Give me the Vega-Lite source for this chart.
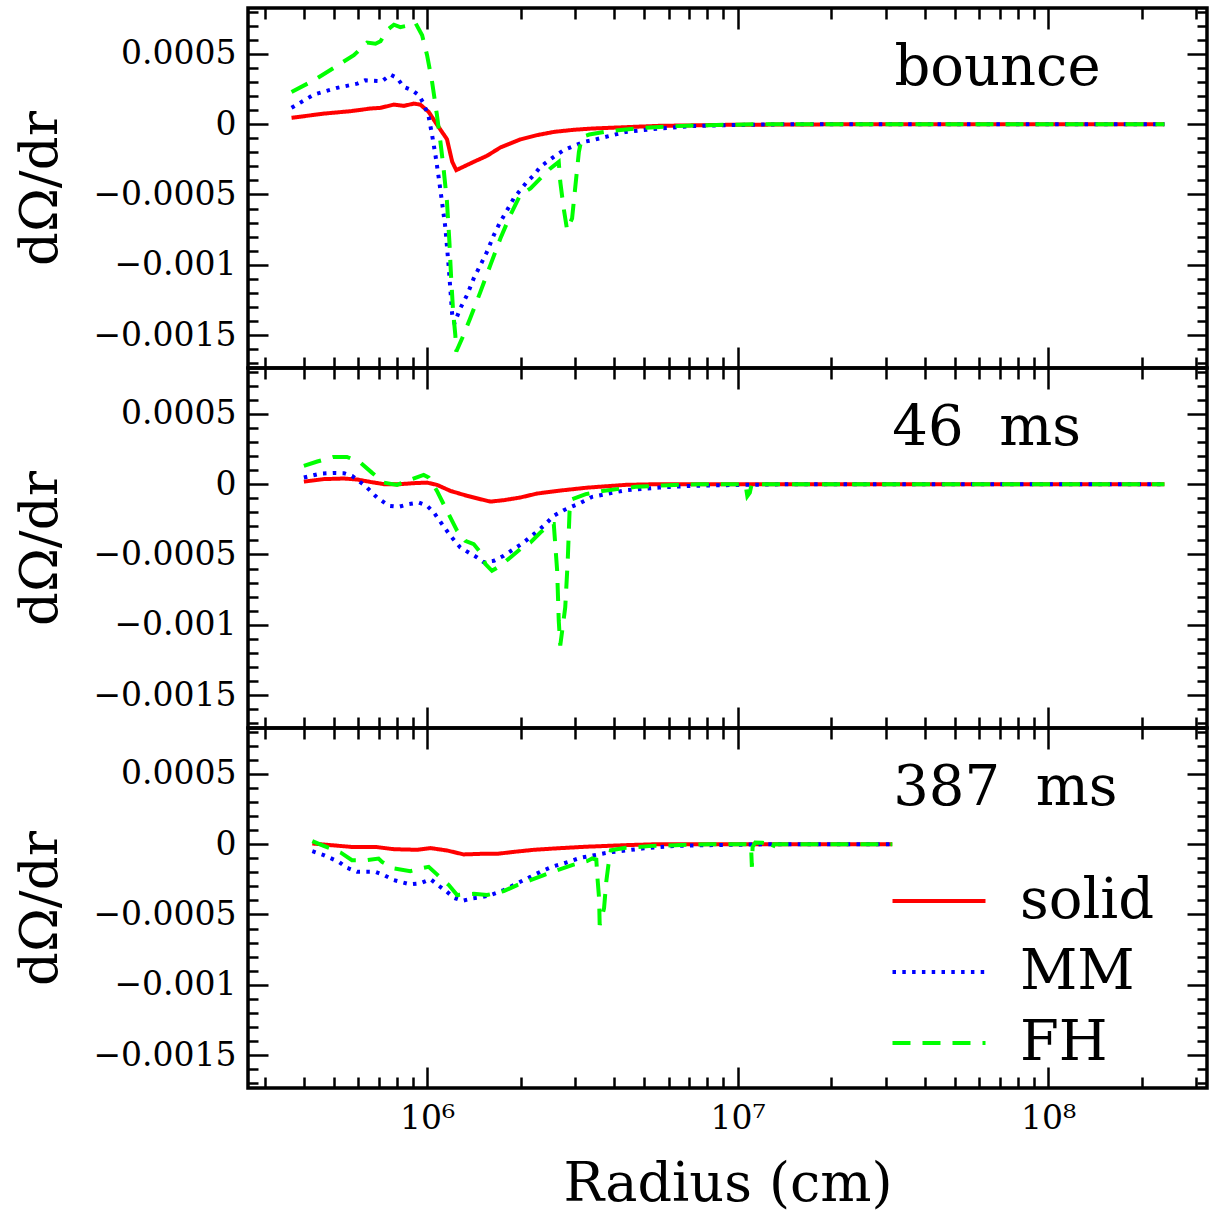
{
  "$schema": "https://vega.github.io/schema/vega-lite/v6.json",
  "padding": {"left": 13, "top": 5, "right": 5, "bottom": 0},
  "spacing": 0,
  "bounds": "flush",
  "config": {
    "view": {"stroke": "black", "strokeWidth": 3.5},
    "axis": {"grid": false, "domain": false, "minExtent": 0, "tickColor": "black", "tickWidth": 2.5, "labelFont": "DejaVu Serif", "titleFont": "DejaVu Serif", "labelFontSize": 33, "titleFontSize": 53, "titleFontWeight": "normal", "labelColor": "black", "titleColor": "black", "labelOverlap": false, "labelBound": false, "labelFlush": false}
  },
  "resolve": {"legend": {"color": "independent", "strokeDash": "independent"}},
  "datasets": {
    "labels": [
      {"p": "bounce", "t": "bounce", "r": 32000000, "v": 0.00028},
      {"p": "46", "t": "46\u00a0\u00a0ms", "r": 31500000, "v": 0.00028},
      {"p": "387", "t": "387\u00a0\u00a0ms", "r": 31700000, "v": 0.00028}
    ],
    "curves": [
      {"p":"bounce","m":"solid","r":366000,"v":0.000045},
      {"p":"bounce","m":"solid","r":465000,"v":0.000075},
      {"p":"bounce","m":"solid","r":566000,"v":0.000092},
      {"p":"bounce","m":"solid","r":656000,"v":0.000111},
      {"p":"bounce","m":"solid","r":708000,"v":0.000116},
      {"p":"bounce","m":"solid","r":782000,"v":0.000139},
      {"p":"bounce","m":"solid","r":841000,"v":0.00013},
      {"p":"bounce","m":"solid","r":906000,"v":0.000146},
      {"p":"bounce","m":"solid","r":951000,"v":0.000139},
      {"p":"bounce","m":"solid","r":1012000,"v":0.000087},
      {"p":"bounce","m":"solid","r":1076000,"v":-0.000003},
      {"p":"bounce","m":"solid","r":1159000,"v":-0.000107},
      {"p":"bounce","m":"solid","r":1205000,"v":-0.000268},
      {"p":"bounce","m":"solid","r":1242000,"v":-0.000327},
      {"p":"bounce","m":"solid","r":1413000,"v":-0.000268},
      {"p":"bounce","m":"solid","r":1560000,"v":-0.000225},
      {"p":"bounce","m":"solid","r":1722000,"v":-0.000166},
      {"p":"bounce","m":"solid","r":1995000,"v":-0.000109},
      {"p":"bounce","m":"solid","r":2260000,"v":-0.000078},
      {"p":"bounce","m":"solid","r":2560000,"v":-0.000055},
      {"p":"bounce","m":"solid","r":2970000,"v":-0.00004},
      {"p":"bounce","m":"solid","r":3400000,"v":-0.000031},
      {"p":"bounce","m":"solid","r":5580000,"v":-0.000012},
      {"p":"bounce","m":"solid","r":9180000,"v":-0.000005},
      {"p":"bounce","m":"solid","r":16000000,"v":-0.000002},
      {"p":"bounce","m":"solid","r":30000000,"v":0},
      {"p":"bounce","m":"solid","r":100000000,"v":0},
      {"p":"bounce","m":"solid","r":237000000,"v":0},

      {"p":"bounce","m":"MM","r":366000,"v":0.000116},
      {"p":"bounce","m":"MM","r":432000,"v":0.00021},
      {"p":"bounce","m":"MM","r":513000,"v":0.000258},
      {"p":"bounce","m":"MM","r":596000,"v":0.000288},
      {"p":"bounce","m":"MM","r":632000,"v":0.000312},
      {"p":"bounce","m":"MM","r":716000,"v":0.000305},
      {"p":"bounce","m":"MM","r":762000,"v":0.000352},
      {"p":"bounce","m":"MM","r":800000,"v":0.000329},
      {"p":"bounce","m":"MM","r":841000,"v":0.000265},
      {"p":"bounce","m":"MM","r":895000,"v":0.000241},
      {"p":"bounce","m":"MM","r":940000,"v":0.000206},
      {"p":"bounce","m":"MM","r":975000,"v":0.000146},
      {"p":"bounce","m":"MM","r":1012000,"v":0.000052},
      {"p":"bounce","m":"MM","r":1038000,"v":-0.000078},
      {"p":"bounce","m":"MM","r":1064000,"v":-0.00022},
      {"p":"bounce","m":"MM","r":1091000,"v":-0.000386},
      {"p":"bounce","m":"MM","r":1117000,"v":-0.000552},
      {"p":"bounce","m":"MM","r":1146000,"v":-0.000741},
      {"p":"bounce","m":"MM","r":1175000,"v":-0.001026},
      {"p":"bounce","m":"MM","r":1205000,"v":-0.001357},
      {"p":"bounce","m":"MM","r":1225000,"v":-0.001416},
      {"p":"bounce","m":"MM","r":1279000,"v":-0.00131},
      {"p":"bounce","m":"MM","r":1346000,"v":-0.001214},
      {"p":"bounce","m":"MM","r":1413000,"v":-0.001097},
      {"p":"bounce","m":"MM","r":1486000,"v":-0.001001},
      {"p":"bounce","m":"MM","r":1560000,"v":-0.000907},
      {"p":"bounce","m":"MM","r":1641000,"v":-0.000788},
      {"p":"bounce","m":"MM","r":1722000,"v":-0.000694},
      {"p":"bounce","m":"MM","r":1811000,"v":-0.000611},
      {"p":"bounce","m":"MM","r":1901000,"v":-0.000528},
      {"p":"bounce","m":"MM","r":1995000,"v":-0.000469},
      {"p":"bounce","m":"MM","r":2099000,"v":-0.00041},
      {"p":"bounce","m":"MM","r":2208000,"v":-0.000362},
      {"p":"bounce","m":"MM","r":2317000,"v":-0.000303},
      {"p":"bounce","m":"MM","r":2559000,"v":-0.000232},
      {"p":"bounce","m":"MM","r":2754000,"v":-0.000185},
      {"p":"bounce","m":"MM","r":3199000,"v":-0.000126},
      {"p":"bounce","m":"MM","r":3404000,"v":-0.000114},
      {"p":"bounce","m":"MM","r":4365000,"v":-0.000055},
      {"p":"bounce","m":"MM","r":5585000,"v":-0.000031},
      {"p":"bounce","m":"MM","r":7145000,"v":-0.000014},
      {"p":"bounce","m":"MM","r":9160000,"v":-0.000007},
      {"p":"bounce","m":"MM","r":15000000,"v":0},
      {"p":"bounce","m":"MM","r":100000000,"v":0},
      {"p":"bounce","m":"MM","r":237000000,"v":0},

      {"p":"bounce","m":"FH","r":366000,"v":0.000229},
      {"p":"bounce","m":"FH","r":432000,"v":0.000312},
      {"p":"bounce","m":"FH","r":581000,"v":0.00049},
      {"p":"bounce","m":"FH","r":641000,"v":0.00058},
      {"p":"bounce","m":"FH","r":682000,"v":0.000572},
      {"p":"bounce","m":"FH","r":708000,"v":0.00059},
      {"p":"bounce","m":"FH","r":743000,"v":0.000668},
      {"p":"bounce","m":"FH","r":782000,"v":0.000707},
      {"p":"bounce","m":"FH","r":820000,"v":0.00069},
      {"p":"bounce","m":"FH","r":863000,"v":0.0007},
      {"p":"bounce","m":"FH","r":916000,"v":0.000722},
      {"p":"bounce","m":"FH","r":964000,"v":0.000632},
      {"p":"bounce","m":"FH","r":1000000,"v":0.00049},
      {"p":"bounce","m":"FH","r":1038000,"v":0.0003},
      {"p":"bounce","m":"FH","r":1076000,"v":0.000064},
      {"p":"bounce","m":"FH","r":1104000,"v":-0.000126},
      {"p":"bounce","m":"FH","r":1130000,"v":-0.000315},
      {"p":"bounce","m":"FH","r":1159000,"v":-0.000552},
      {"p":"bounce","m":"FH","r":1180000,"v":-0.000836},
      {"p":"bounce","m":"FH","r":1194000,"v":-0.001072},
      {"p":"bounce","m":"FH","r":1213000,"v":-0.001333},
      {"p":"bounce","m":"FH","r":1233000,"v":-0.001499},
      {"p":"bounce","m":"FH","r":1242000,"v":-0.001617},
      {"p":"bounce","m":"FH","r":1297000,"v":-0.001523},
      {"p":"bounce","m":"FH","r":1377000,"v":-0.001381},
      {"p":"bounce","m":"FH","r":1486000,"v":-0.001191},
      {"p":"bounce","m":"FH","r":1600000,"v":-0.001001},
      {"p":"bounce","m":"FH","r":1722000,"v":-0.000813},
      {"p":"bounce","m":"FH","r":1854000,"v":-0.000647},
      {"p":"bounce","m":"FH","r":1995000,"v":-0.000504},
      {"p":"bounce","m":"FH","r":2153000,"v":-0.000457},
      {"p":"bounce","m":"FH","r":2317000,"v":-0.000386},
      {"p":"bounce","m":"FH","r":2495000,"v":-0.000315},
      {"p":"bounce","m":"FH","r":2655000,"v":-0.000268},
      {"p":"bounce","m":"FH","r":2685000,"v":-0.00041},
      {"p":"bounce","m":"FH","r":2754000,"v":-0.000599},
      {"p":"bounce","m":"FH","r":2825000,"v":-0.000753},
      {"p":"bounce","m":"FH","r":2931000,"v":-0.00067},
      {"p":"bounce","m":"FH","r":3006000,"v":-0.000433},
      {"p":"bounce","m":"FH","r":3083000,"v":-0.000197},
      {"p":"bounce","m":"FH","r":3155000,"v":-0.00009},
      {"p":"bounce","m":"FH","r":3330000,"v":-0.000074},
      {"p":"bounce","m":"FH","r":3855000,"v":-0.00005},
      {"p":"bounce","m":"FH","r":4930000,"v":-0.000027},
      {"p":"bounce","m":"FH","r":6320000,"v":-0.000014},
      {"p":"bounce","m":"FH","r":8090000,"v":-0.000007},
      {"p":"bounce","m":"FH","r":12000000,"v":0},
      {"p":"bounce","m":"FH","r":100000000,"v":0},
      {"p":"bounce","m":"FH","r":237000000,"v":0},

      {"p":"46","m":"solid","r":401000,"v":0.000018},
      {"p":"46","m":"solid","r":465000,"v":0.000036},
      {"p":"46","m":"solid","r":540000,"v":0.00004},
      {"p":"46","m":"solid","r":596000,"v":0.000033},
      {"p":"46","m":"solid","r":656000,"v":0.000016},
      {"p":"46","m":"solid","r":726000,"v":0},
      {"p":"46","m":"solid","r":820000,"v":0},
      {"p":"46","m":"solid","r":906000,"v":0.000007},
      {"p":"46","m":"solid","r":1000000,"v":0.000011},
      {"p":"46","m":"solid","r":1076000,"v":-0.000005},
      {"p":"46","m":"solid","r":1189000,"v":-0.000048},
      {"p":"46","m":"solid","r":1346000,"v":-0.000083},
      {"p":"46","m":"solid","r":1486000,"v":-0.000107},
      {"p":"46","m":"solid","r":1600000,"v":-0.000124},
      {"p":"46","m":"solid","r":1766000,"v":-0.000114},
      {"p":"46","m":"solid","r":1995000,"v":-0.000095},
      {"p":"46","m":"solid","r":2259000,"v":-0.000067},
      {"p":"46","m":"solid","r":2624000,"v":-0.000048},
      {"p":"46","m":"solid","r":3273000,"v":-0.000025},
      {"p":"46","m":"solid","r":4365000,"v":-0.000005},
      {"p":"46","m":"solid","r":5585000,"v":0},
      {"p":"46","m":"solid","r":100000000,"v":0},
      {"p":"46","m":"solid","r":237000000,"v":0},

      {"p":"46","m":"MM","r":401000,"v":0.000047},
      {"p":"46","m":"MM","r":453000,"v":0.000075},
      {"p":"46","m":"MM","r":500000,"v":0.00008},
      {"p":"46","m":"MM","r":540000,"v":0.000078},
      {"p":"46","m":"MM","r":573000,"v":0.000059},
      {"p":"46","m":"MM","r":632000,"v":-0.000012},
      {"p":"46","m":"MM","r":690000,"v":-0.000095},
      {"p":"46","m":"MM","r":753000,"v":-0.000154},
      {"p":"46","m":"MM","r":811000,"v":-0.000161},
      {"p":"46","m":"MM","r":873000,"v":-0.000142},
      {"p":"46","m":"MM","r":940000,"v":-0.000131},
      {"p":"46","m":"MM","r":1000000,"v":-0.000154},
      {"p":"46","m":"MM","r":1052000,"v":-0.000202},
      {"p":"46","m":"MM","r":1117000,"v":-0.000284},
      {"p":"46","m":"MM","r":1189000,"v":-0.000367},
      {"p":"46","m":"MM","r":1279000,"v":-0.00045},
      {"p":"46","m":"MM","r":1361000,"v":-0.000486},
      {"p":"46","m":"MM","r":1449000,"v":-0.000521},
      {"p":"46","m":"MM","r":1524000,"v":-0.000556},
      {"p":"46","m":"MM","r":1641000,"v":-0.000545},
      {"p":"46","m":"MM","r":1766000,"v":-0.000509},
      {"p":"46","m":"MM","r":1901000,"v":-0.000462},
      {"p":"46","m":"MM","r":2046000,"v":-0.000415},
      {"p":"46","m":"MM","r":2208000,"v":-0.000355},
      {"p":"46","m":"MM","r":2377000,"v":-0.000296},
      {"p":"46","m":"MM","r":2559000,"v":-0.000225},
      {"p":"46","m":"MM","r":2754000,"v":-0.000185},
      {"p":"46","m":"MM","r":2965000,"v":-0.000154},
      {"p":"46","m":"MM","r":3090000,"v":-0.000138},
      {"p":"46","m":"MM","r":3404000,"v":-0.00009},
      {"p":"46","m":"MM","r":4365000,"v":-0.000043},
      {"p":"46","m":"MM","r":5585000,"v":-0.000024},
      {"p":"46","m":"MM","r":7145000,"v":-0.000012},
      {"p":"46","m":"MM","r":9160000,"v":-0.000007},
      {"p":"46","m":"MM","r":15000000,"v":0},
      {"p":"46","m":"MM","r":100000000,"v":0},
      {"p":"46","m":"MM","r":237000000,"v":0},

      {"p":"46","m":"FH","r":401000,"v":0.00013},
      {"p":"46","m":"FH","r":443000,"v":0.000161},
      {"p":"46","m":"FH","r":500000,"v":0.000194},
      {"p":"46","m":"FH","r":552000,"v":0.000194},
      {"p":"46","m":"FH","r":610000,"v":0.000153},
      {"p":"46","m":"FH","r":664000,"v":0.000082},
      {"p":"46","m":"FH","r":726000,"v":0.000011},
      {"p":"46","m":"FH","r":800000,"v":-0.000005},
      {"p":"46","m":"FH","r":893000,"v":0.000036},
      {"p":"46","m":"FH","r":975000,"v":0.000066},
      {"p":"46","m":"FH","r":1012000,"v":0.000047},
      {"p":"46","m":"FH","r":1076000,"v":-0.000048},
      {"p":"46","m":"FH","r":1159000,"v":-0.00019},
      {"p":"46","m":"FH","r":1250000,"v":-0.000332},
      {"p":"46","m":"FH","r":1327000,"v":-0.000403},
      {"p":"46","m":"FH","r":1413000,"v":-0.000426},
      {"p":"46","m":"FH","r":1486000,"v":-0.000486},
      {"p":"46","m":"FH","r":1542000,"v":-0.000568},
      {"p":"46","m":"FH","r":1618000,"v":-0.000616},
      {"p":"46","m":"FH","r":1722000,"v":-0.00058},
      {"p":"46","m":"FH","r":1854000,"v":-0.000521},
      {"p":"46","m":"FH","r":1995000,"v":-0.000462},
      {"p":"46","m":"FH","r":2153000,"v":-0.000415},
      {"p":"46","m":"FH","r":2317000,"v":-0.000344},
      {"p":"46","m":"FH","r":2495000,"v":-0.000284},
      {"p":"46","m":"FH","r":2559000,"v":-0.000284},
      {"p":"46","m":"FH","r":2624000,"v":-0.000616},
      {"p":"46","m":"FH","r":2655000,"v":-0.000971},
      {"p":"46","m":"FH","r":2685000,"v":-0.001148},
      {"p":"46","m":"FH","r":2786000,"v":-0.000876},
      {"p":"46","m":"FH","r":2838000,"v":-0.000545},
      {"p":"46","m":"FH","r":2877000,"v":-0.00019},
      {"p":"46","m":"FH","r":2931000,"v":-0.000107},
      {"p":"46","m":"FH","r":3243000,"v":-0.000071},
      {"p":"46","m":"FH","r":3673000,"v":-0.000048},
      {"p":"46","m":"FH","r":4699000,"v":-0.000019},
      {"p":"46","m":"FH","r":6012000,"v":-0.000007},
      {"p":"46","m":"FH","r":7516000,"v":0},
      {"p":"46","m":"FH","r":10600000,"v":0},
      {"p":"46","m":"FH","r":10750000,"v":-0.000085},
      {"p":"46","m":"FH","r":10950000,"v":-0.00006},
      {"p":"46","m":"FH","r":11100000,"v":0},
      {"p":"46","m":"FH","r":100000000,"v":0},
      {"p":"46","m":"FH","r":237000000,"v":0},

      {"p":"387","m":"solid","r":427000,"v":0.000005},
      {"p":"387","m":"solid","r":489000,"v":-0.000007},
      {"p":"387","m":"solid","r":581000,"v":-0.000021},
      {"p":"387","m":"solid","r":690000,"v":-0.000021},
      {"p":"387","m":"solid","r":782000,"v":-0.000036},
      {"p":"387","m":"solid","r":929000,"v":-0.00004},
      {"p":"387","m":"solid","r":1026000,"v":-0.000028},
      {"p":"387","m":"solid","r":1159000,"v":-0.000045},
      {"p":"387","m":"solid","r":1312000,"v":-0.000073},
      {"p":"387","m":"solid","r":1486000,"v":-0.000069},
      {"p":"387","m":"solid","r":1679000,"v":-0.000069},
      {"p":"387","m":"solid","r":1901000,"v":-0.000055},
      {"p":"387","m":"solid","r":2208000,"v":-0.00004},
      {"p":"387","m":"solid","r":2559000,"v":-0.000031},
      {"p":"387","m":"solid","r":3199000,"v":-0.000019},
      {"p":"387","m":"solid","r":4365000,"v":-0.000007},
      {"p":"387","m":"solid","r":5585000,"v":0},
      {"p":"387","m":"solid","r":31500000,"v":0},

      {"p":"387","m":"MM","r":427000,"v":-0.00005},
      {"p":"387","m":"MM","r":464500,"v":-0.000078},
      {"p":"387","m":"MM","r":520000,"v":-0.000126},
      {"p":"387","m":"MM","r":552000,"v":-0.000168},
      {"p":"387","m":"MM","r":596000,"v":-0.000197},
      {"p":"387","m":"MM","r":682000,"v":-0.000197},
      {"p":"387","m":"MM","r":726000,"v":-0.00022},
      {"p":"387","m":"MM","r":782000,"v":-0.000256},
      {"p":"387","m":"MM","r":883000,"v":-0.000286},
      {"p":"387","m":"MM","r":951000,"v":-0.000279},
      {"p":"387","m":"MM","r":1026000,"v":-0.000249},
      {"p":"387","m":"MM","r":1091000,"v":-0.000296},
      {"p":"387","m":"MM","r":1159000,"v":-0.000339},
      {"p":"387","m":"MM","r":1219000,"v":-0.000381},
      {"p":"387","m":"MM","r":1297000,"v":-0.000403},
      {"p":"387","m":"MM","r":1396000,"v":-0.000386},
      {"p":"387","m":"MM","r":1486000,"v":-0.000379},
      {"p":"387","m":"MM","r":1600000,"v":-0.000362},
      {"p":"387","m":"MM","r":1766000,"v":-0.000327},
      {"p":"387","m":"MM","r":1950000,"v":-0.000279},
      {"p":"387","m":"MM","r":2153000,"v":-0.000232},
      {"p":"387","m":"MM","r":2317000,"v":-0.000197},
      {"p":"387","m":"MM","r":2523000,"v":-0.000161},
      {"p":"387","m":"MM","r":2754000,"v":-0.000137},
      {"p":"387","m":"MM","r":3119000,"v":-0.000097},
      {"p":"387","m":"MM","r":3855000,"v":-0.000059},
      {"p":"387","m":"MM","r":4932000,"v":-0.000031},
      {"p":"387","m":"MM","r":6324000,"v":-0.000012},
      {"p":"387","m":"MM","r":8091000,"v":-0.000007},
      {"p":"387","m":"MM","r":13000000,"v":0},
      {"p":"387","m":"MM","r":31500000,"v":0},

      {"p":"387","m":"FH","r":427000,"v":0.000021},
      {"p":"387","m":"FH","r":464500,"v":-0.000012},
      {"p":"387","m":"FH","r":526000,"v":-0.000059},
      {"p":"387","m":"FH","r":573000,"v":-0.000114},
      {"p":"387","m":"FH","r":641000,"v":-0.000114},
      {"p":"387","m":"FH","r":698000,"v":-0.000102},
      {"p":"387","m":"FH","r":716000,"v":-0.000126},
      {"p":"387","m":"FH","r":782000,"v":-0.000173},
      {"p":"387","m":"FH","r":883000,"v":-0.000192},
      {"p":"387","m":"FH","r":975000,"v":-0.000168},
      {"p":"387","m":"FH","r":1012000,"v":-0.000161},
      {"p":"387","m":"FH","r":1076000,"v":-0.000215},
      {"p":"387","m":"FH","r":1175000,"v":-0.000291},
      {"p":"387","m":"FH","r":1250000,"v":-0.000362},
      {"p":"387","m":"FH","r":1413000,"v":-0.000353},
      {"p":"387","m":"FH","r":1560000,"v":-0.000362},
      {"p":"387","m":"FH","r":1766000,"v":-0.000334},
      {"p":"387","m":"FH","r":1950000,"v":-0.000291},
      {"p":"387","m":"FH","r":2153000,"v":-0.000256},
      {"p":"387","m":"FH","r":2377000,"v":-0.00022},
      {"p":"387","m":"FH","r":2624000,"v":-0.000185},
      {"p":"387","m":"FH","r":2931000,"v":-0.000149},
      {"p":"387","m":"FH","r":3273000,"v":-0.000121},
      {"p":"387","m":"FH","r":3404000,"v":-0.000102},
      {"p":"387","m":"FH","r":3508000,"v":-0.00011},
      {"p":"387","m":"FH","r":3532000,"v":-0.00022},
      {"p":"387","m":"FH","r":3581000,"v":-0.000386},
      {"p":"387","m":"FH","r":3597000,"v":-0.000575},
      {"p":"387","m":"FH","r":3715000,"v":-0.000457},
      {"p":"387","m":"FH","r":3776000,"v":-0.000268},
      {"p":"387","m":"FH","r":3837000,"v":-0.000149},
      {"p":"387","m":"FH","r":3908000,"v":-0.000043},
      {"p":"387","m":"FH","r":4365000,"v":-0.000026},
      {"p":"387","m":"FH","r":5188000,"v":-0.000014},
      {"p":"387","m":"FH","r":6324000,"v":-0.000007},
      {"p":"387","m":"FH","r":8091000,"v":0},
      {"p":"387","m":"FH","r":10900000,"v":0},
      {"p":"387","m":"FH","r":11050000,"v":-0.00001},
      {"p":"387","m":"FH","r":11120000,"v":-0.000161},
      {"p":"387","m":"FH","r":11180000,"v":-0.00002},
      {"p":"387","m":"FH","r":11400000,"v":0.000012},
      {"p":"387","m":"FH","r":12000000,"v":0.00001},
      {"p":"387","m":"FH","r":12700000,"v":0},
      {"p":"387","m":"FH","r":12950000,"v":-0.00003},
      {"p":"387","m":"FH","r":13100000,"v":0},
      {"p":"387","m":"FH","r":31500000,"v":0}
    ]
  },
  "vconcat": [
    {
      "width": 959, "height": 360,
      "resolve": {"axis": {"x": "independent", "y": "independent"}},
      "layer": [
        {
          "data": {"name": "curves"},
          "transform": [{"filter": "datum.p == 'bounce'"}],
          "mark": {"type": "line", "strokeWidth": 4},
          "encoding": {
            "x": {"field": "r", "type": "quantitative", "scale": {"type": "log", "domain": [265000, 325000000], "nice": false}, "axis": null},
            "y": {"field": "v", "type": "quantitative", "scale": {"domain": [-0.001734, 0.000826], "nice": false, "zero": false}, "axis": {"orient": "left", "values": [-0.0015, -0.001, -0.0005, 0, 0.0005], "format": "~g", "ticks": false, "tickSize": 0, "labelPadding": 12, "title": "dΩ/dr", "titlePadding": 25}},
            "color": {"field": "m", "type": "nominal", "scale": {"domain": ["solid", "MM", "FH"], "range": ["#ff0000", "#0000ff", "#00ff00"]}, "legend": null},
            "strokeDash": {"field": "m", "type": "nominal", "scale": {"domain": ["solid", "MM", "FH"], "range": [[1, 0], [3.5, 6.3], [18, 12]]}, "legend": null}
          }
        },
        {
          "data": {"name": "labels"},
          "transform": [{"filter": "datum.p == 'bounce'"}],
          "mark": {"type": "point", "opacity": 0},
          "encoding": {
            "x": {"field": "r", "type": "quantitative", "scale": {"type": "log", "domain": [265000, 325000000], "nice": false}, "axis": {"orient": "bottom", "values": [1000000, 10000000, 100000000], "labels": false, "tickSize": -21, "title": null}},
            "y": {"field": "v", "type": "quantitative", "scale": {"domain": [-0.001734, 0.000826], "nice": false, "zero": false}, "axis": {"orient": "left", "values": [-0.0015, -0.001, -0.0005, 0, 0.0005], "labels": false, "tickSize": -20, "title": null}}
          }
        },
        {
          "data": {"name": "labels"},
          "transform": [{"filter": "datum.p == 'bounce'"}],
          "mark": {"type": "point", "opacity": 0},
          "encoding": {
            "x": {"field": "r", "type": "quantitative", "scale": {"type": "log", "domain": [265000, 325000000], "nice": false}, "axis": {"orient": "bottom", "values": [300000, 400000, 500000, 600000, 700000, 800000, 900000, 2000000, 3000000, 4000000, 5000000, 6000000, 7000000, 8000000, 9000000, 20000000, 30000000, 40000000, 50000000, 60000000, 70000000, 80000000, 90000000, 200000000, 300000000], "labels": false, "tickSize": -11, "title": null}},
            "y": {"field": "v", "type": "quantitative", "scale": {"domain": [-0.001734, 0.000826], "nice": false, "zero": false}, "axis": {"orient": "left", "values": [-0.0017, -0.0016, -0.0014, -0.0013, -0.0012, -0.0011, -0.0009, -0.0008, -0.0007, -0.0006, -0.0004, -0.0003, -0.0002, -0.0001, 0.0001, 0.0002, 0.0003, 0.0004, 0.0006, 0.0007, 0.0008], "labels": false, "tickSize": -10, "title": null}}
          }
        },
        {
          "data": {"name": "labels"},
          "transform": [{"filter": "datum.p == 'bounce'"}],
          "mark": {"type": "point", "opacity": 0},
          "encoding": {
            "x": {"field": "r", "type": "quantitative", "scale": {"type": "log", "domain": [265000, 325000000], "nice": false}, "axis": {"orient": "top", "values": [1000000, 10000000, 100000000], "labels": false, "tickSize": -21, "title": null}},
            "y": {"field": "v", "type": "quantitative", "scale": {"domain": [-0.001734, 0.000826], "nice": false, "zero": false}, "axis": {"orient": "right", "values": [-0.0015, -0.001, -0.0005, 0, 0.0005], "labels": false, "tickSize": -20, "title": null}}
          }
        },
        {
          "data": {"name": "labels"},
          "transform": [{"filter": "datum.p == 'bounce'"}],
          "mark": {"type": "point", "opacity": 0},
          "encoding": {
            "x": {"field": "r", "type": "quantitative", "scale": {"type": "log", "domain": [265000, 325000000], "nice": false}, "axis": {"orient": "top", "values": [300000, 400000, 500000, 600000, 700000, 800000, 900000, 2000000, 3000000, 4000000, 5000000, 6000000, 7000000, 8000000, 9000000, 20000000, 30000000, 40000000, 50000000, 60000000, 70000000, 80000000, 90000000, 200000000, 300000000], "labels": false, "tickSize": -11, "title": null}},
            "y": {"field": "v", "type": "quantitative", "scale": {"domain": [-0.001734, 0.000826], "nice": false, "zero": false}, "axis": {"orient": "right", "values": [-0.0017, -0.0016, -0.0014, -0.0013, -0.0012, -0.0011, -0.0009, -0.0008, -0.0007, -0.0006, -0.0004, -0.0003, -0.0002, -0.0001, 0.0001, 0.0002, 0.0003, 0.0004, 0.0006, 0.0007, 0.0008], "labels": false, "tickSize": -10, "title": null}}
          }
        },
        {
          "data": {"name": "labels"},
          "transform": [{"filter": "datum.p == 'bounce'"}],
          "mark": {"type": "text", "align": "left", "baseline": "alphabetic", "font": "DejaVu Serif", "fontSize": 56, "color": "black"},
          "encoding": {
            "x": {"field": "r", "type": "quantitative", "axis": null},
            "y": {"field": "v", "type": "quantitative", "axis": null},
            "text": {"field": "t"}
          }
        }
      ]
    },
    {
      "width": 959, "height": 360,
      "resolve": {"axis": {"x": "independent", "y": "independent"}},
      "layer": [
        {
          "data": {"name": "curves"},
          "transform": [{"filter": "datum.p == '46'"}],
          "mark": {"type": "line", "strokeWidth": 4},
          "encoding": {
            "x": {"field": "r", "type": "quantitative", "scale": {"type": "log", "domain": [265000, 325000000], "nice": false}, "axis": null},
            "y": {"field": "v", "type": "quantitative", "scale": {"domain": [-0.001734, 0.000826], "nice": false, "zero": false}, "axis": {"orient": "left", "values": [-0.0015, -0.001, -0.0005, 0, 0.0005], "format": "~g", "ticks": false, "tickSize": 0, "labelPadding": 12, "title": "dΩ/dr", "titlePadding": 25}},
            "color": {"field": "m", "type": "nominal", "scale": {"domain": ["solid", "MM", "FH"], "range": ["#ff0000", "#0000ff", "#00ff00"]}, "legend": null},
            "strokeDash": {"field": "m", "type": "nominal", "scale": {"domain": ["solid", "MM", "FH"], "range": [[1, 0], [3.5, 6.3], [18, 12]]}, "legend": null}
          }
        },
        {
          "data": {"name": "labels"},
          "transform": [{"filter": "datum.p == '46'"}],
          "mark": {"type": "point", "opacity": 0},
          "encoding": {
            "x": {"field": "r", "type": "quantitative", "scale": {"type": "log", "domain": [265000, 325000000], "nice": false}, "axis": {"orient": "bottom", "values": [1000000, 10000000, 100000000], "labels": false, "tickSize": -21, "title": null}},
            "y": {"field": "v", "type": "quantitative", "scale": {"domain": [-0.001734, 0.000826], "nice": false, "zero": false}, "axis": {"orient": "left", "values": [-0.0015, -0.001, -0.0005, 0, 0.0005], "labels": false, "tickSize": -20, "title": null}}
          }
        },
        {
          "data": {"name": "labels"},
          "transform": [{"filter": "datum.p == '46'"}],
          "mark": {"type": "point", "opacity": 0},
          "encoding": {
            "x": {"field": "r", "type": "quantitative", "scale": {"type": "log", "domain": [265000, 325000000], "nice": false}, "axis": {"orient": "bottom", "values": [300000, 400000, 500000, 600000, 700000, 800000, 900000, 2000000, 3000000, 4000000, 5000000, 6000000, 7000000, 8000000, 9000000, 20000000, 30000000, 40000000, 50000000, 60000000, 70000000, 80000000, 90000000, 200000000, 300000000], "labels": false, "tickSize": -11, "title": null}},
            "y": {"field": "v", "type": "quantitative", "scale": {"domain": [-0.001734, 0.000826], "nice": false, "zero": false}, "axis": {"orient": "left", "values": [-0.0017, -0.0016, -0.0014, -0.0013, -0.0012, -0.0011, -0.0009, -0.0008, -0.0007, -0.0006, -0.0004, -0.0003, -0.0002, -0.0001, 0.0001, 0.0002, 0.0003, 0.0004, 0.0006, 0.0007, 0.0008], "labels": false, "tickSize": -10, "title": null}}
          }
        },
        {
          "data": {"name": "labels"},
          "transform": [{"filter": "datum.p == '46'"}],
          "mark": {"type": "point", "opacity": 0},
          "encoding": {
            "x": {"field": "r", "type": "quantitative", "scale": {"type": "log", "domain": [265000, 325000000], "nice": false}, "axis": {"orient": "top", "values": [1000000, 10000000, 100000000], "labels": false, "tickSize": -21, "title": null}},
            "y": {"field": "v", "type": "quantitative", "scale": {"domain": [-0.001734, 0.000826], "nice": false, "zero": false}, "axis": {"orient": "right", "values": [-0.0015, -0.001, -0.0005, 0, 0.0005], "labels": false, "tickSize": -20, "title": null}}
          }
        },
        {
          "data": {"name": "labels"},
          "transform": [{"filter": "datum.p == '46'"}],
          "mark": {"type": "point", "opacity": 0},
          "encoding": {
            "x": {"field": "r", "type": "quantitative", "scale": {"type": "log", "domain": [265000, 325000000], "nice": false}, "axis": {"orient": "top", "values": [300000, 400000, 500000, 600000, 700000, 800000, 900000, 2000000, 3000000, 4000000, 5000000, 6000000, 7000000, 8000000, 9000000, 20000000, 30000000, 40000000, 50000000, 60000000, 70000000, 80000000, 90000000, 200000000, 300000000], "labels": false, "tickSize": -11, "title": null}},
            "y": {"field": "v", "type": "quantitative", "scale": {"domain": [-0.001734, 0.000826], "nice": false, "zero": false}, "axis": {"orient": "right", "values": [-0.0017, -0.0016, -0.0014, -0.0013, -0.0012, -0.0011, -0.0009, -0.0008, -0.0007, -0.0006, -0.0004, -0.0003, -0.0002, -0.0001, 0.0001, 0.0002, 0.0003, 0.0004, 0.0006, 0.0007, 0.0008], "labels": false, "tickSize": -10, "title": null}}
          }
        },
        {
          "data": {"name": "labels"},
          "transform": [{"filter": "datum.p == '46'"}],
          "mark": {"type": "text", "align": "left", "baseline": "alphabetic", "font": "DejaVu Serif", "fontSize": 56, "color": "black"},
          "encoding": {
            "x": {"field": "r", "type": "quantitative", "axis": null},
            "y": {"field": "v", "type": "quantitative", "axis": null},
            "text": {"field": "t"}
          }
        }
      ]
    },
    {
      "width": 959, "height": 360,
      "resolve": {"axis": {"x": "independent", "y": "independent"}},
      "layer": [
        {
          "data": {"name": "curves"},
          "transform": [{"filter": "datum.p == '387'"}],
          "mark": {"type": "line", "strokeWidth": 4},
          "encoding": {
            "x": {"field": "r", "type": "quantitative", "scale": {"type": "log", "domain": [265000, 325000000], "nice": false}, "axis": {"orient": "bottom", "values": [1000000, 10000000, 100000000], "ticks": false, "tickSize": 0, "labelPadding": 14, "labelFontSize": 33, "labelExpr": "'10' + (datum.value < 5000000 ? '⁶' : datum.value < 50000000 ? '⁷' : '⁸')", "title": "Radius (cm)", "titleFontSize": 54, "titlePadding": 22}},
            "y": {"field": "v", "type": "quantitative", "scale": {"domain": [-0.001734, 0.000826], "nice": false, "zero": false}, "axis": {"orient": "left", "values": [-0.0015, -0.001, -0.0005, 0, 0.0005], "format": "~g", "ticks": false, "tickSize": 0, "labelPadding": 12, "title": "dΩ/dr", "titlePadding": 25}},
            "color": {"field": "m", "type": "nominal", "scale": {"domain": ["solid", "MM", "FH"], "range": ["#ff0000", "#0000ff", "#00ff00"]}, "legend": {"orient": "none", "legendX": 663, "legendY": 145, "title": null, "padding": 0, "symbolType": "M-2,0L2,0", "symbolSize": 2162, "symbolStrokeWidth": 4, "labelFont": "DejaVu Serif", "labelFontSize": 56, "labelColor": "black", "labelOffset": 53, "rowPadding": 15}},
            "strokeDash": {"field": "m", "type": "nominal", "scale": {"domain": ["solid", "MM", "FH"], "range": [[1, 0], [3.5, 6.3], [18, 12]]}, "legend": {"orient": "none", "legendX": 663, "legendY": 145, "title": null, "padding": 0, "symbolType": "M-2,0L2,0", "symbolSize": 2162, "symbolStrokeWidth": 4, "labelFont": "DejaVu Serif", "labelFontSize": 56, "labelColor": "black", "labelOffset": 53, "rowPadding": 15}}
          }
        },
        {
          "data": {"name": "labels"},
          "transform": [{"filter": "datum.p == '387'"}],
          "mark": {"type": "point", "opacity": 0},
          "encoding": {
            "x": {"field": "r", "type": "quantitative", "scale": {"type": "log", "domain": [265000, 325000000], "nice": false}, "axis": {"orient": "bottom", "values": [1000000, 10000000, 100000000], "labels": false, "tickSize": -21, "title": null}},
            "y": {"field": "v", "type": "quantitative", "scale": {"domain": [-0.001734, 0.000826], "nice": false, "zero": false}, "axis": {"orient": "left", "values": [-0.0015, -0.001, -0.0005, 0, 0.0005], "labels": false, "tickSize": -20, "title": null}}
          }
        },
        {
          "data": {"name": "labels"},
          "transform": [{"filter": "datum.p == '387'"}],
          "mark": {"type": "point", "opacity": 0},
          "encoding": {
            "x": {"field": "r", "type": "quantitative", "scale": {"type": "log", "domain": [265000, 325000000], "nice": false}, "axis": {"orient": "bottom", "values": [300000, 400000, 500000, 600000, 700000, 800000, 900000, 2000000, 3000000, 4000000, 5000000, 6000000, 7000000, 8000000, 9000000, 20000000, 30000000, 40000000, 50000000, 60000000, 70000000, 80000000, 90000000, 200000000, 300000000], "labels": false, "tickSize": -11, "title": null}},
            "y": {"field": "v", "type": "quantitative", "scale": {"domain": [-0.001734, 0.000826], "nice": false, "zero": false}, "axis": {"orient": "left", "values": [-0.0017, -0.0016, -0.0014, -0.0013, -0.0012, -0.0011, -0.0009, -0.0008, -0.0007, -0.0006, -0.0004, -0.0003, -0.0002, -0.0001, 0.0001, 0.0002, 0.0003, 0.0004, 0.0006, 0.0007, 0.0008], "labels": false, "tickSize": -10, "title": null}}
          }
        },
        {
          "data": {"name": "labels"},
          "transform": [{"filter": "datum.p == '387'"}],
          "mark": {"type": "point", "opacity": 0},
          "encoding": {
            "x": {"field": "r", "type": "quantitative", "scale": {"type": "log", "domain": [265000, 325000000], "nice": false}, "axis": {"orient": "top", "values": [1000000, 10000000, 100000000], "labels": false, "tickSize": -21, "title": null}},
            "y": {"field": "v", "type": "quantitative", "scale": {"domain": [-0.001734, 0.000826], "nice": false, "zero": false}, "axis": {"orient": "right", "values": [-0.0015, -0.001, -0.0005, 0, 0.0005], "labels": false, "tickSize": -20, "title": null}}
          }
        },
        {
          "data": {"name": "labels"},
          "transform": [{"filter": "datum.p == '387'"}],
          "mark": {"type": "point", "opacity": 0},
          "encoding": {
            "x": {"field": "r", "type": "quantitative", "scale": {"type": "log", "domain": [265000, 325000000], "nice": false}, "axis": {"orient": "top", "values": [300000, 400000, 500000, 600000, 700000, 800000, 900000, 2000000, 3000000, 4000000, 5000000, 6000000, 7000000, 8000000, 9000000, 20000000, 30000000, 40000000, 50000000, 60000000, 70000000, 80000000, 90000000, 200000000, 300000000], "labels": false, "tickSize": -11, "title": null}},
            "y": {"field": "v", "type": "quantitative", "scale": {"domain": [-0.001734, 0.000826], "nice": false, "zero": false}, "axis": {"orient": "right", "values": [-0.0017, -0.0016, -0.0014, -0.0013, -0.0012, -0.0011, -0.0009, -0.0008, -0.0007, -0.0006, -0.0004, -0.0003, -0.0002, -0.0001, 0.0001, 0.0002, 0.0003, 0.0004, 0.0006, 0.0007, 0.0008], "labels": false, "tickSize": -10, "title": null}}
          }
        },
        {
          "data": {"name": "labels"},
          "transform": [{"filter": "datum.p == '387'"}],
          "mark": {"type": "text", "align": "left", "baseline": "alphabetic", "font": "DejaVu Serif", "fontSize": 56, "color": "black"},
          "encoding": {
            "x": {"field": "r", "type": "quantitative", "axis": null},
            "y": {"field": "v", "type": "quantitative", "axis": null},
            "text": {"field": "t"}
          }
        }
      ]
    }
  ]
}
